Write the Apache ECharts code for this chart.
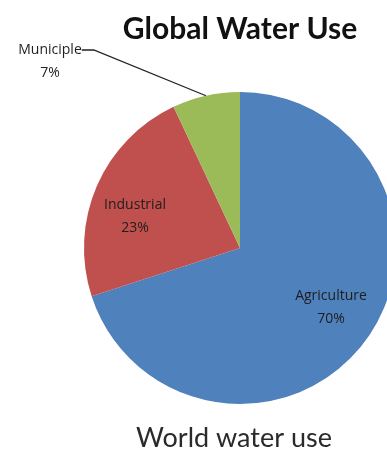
<!DOCTYPE html>
<html>
<head>
<meta charset="utf-8">
<script src="https://cdn.jsdelivr.net/npm/echarts@6/dist/echarts.min.js"></script>
<style>
  html, body { margin: 0; padding: 0; background: #fff; }
  #chart { width: 387px; height: 450px; }
</style>
</head>
<body>
<div id="chart"></div>
<script>
// Share of global freshwater withdrawals by sector
const categories = ['Agriculture', 'Industrial', 'Municiple'];
const shares = [70, 23, 7];
const sliceColors = ['#4F81BD', '#C0504D', '#9BBB59'];

// Where each sector's label sits (pixel anchor, centred)
const labelSpots = [
  { x: 331, y: 308 },
  { x: 135, y: 217 },
  { x: 50, y: 50 }
];

const chart = echarts.init(document.getElementById('chart'), null, { renderer: 'canvas' });

chart.setOption({
  animation: false,
  title: [
    {
      text: 'Global Water Use',
      left: 235,
      top: 9,
      textAlign: 'center',
      textStyle: { fontFamily: 'Lato', fontWeight: 'bold', fontSize: 30, color: '#111' }
    },
    {
      text: 'World water use',
      left: 229,
      top: 420,
      textAlign: 'center',
      textStyle: { fontFamily: 'Lato', fontWeight: 'normal', fontSize: 27, color: '#2a2a2a' }
    }
  ],
  series: [{
    type: 'pie',
    center: [240, 248],
    radius: 156,
    startAngle: 90,
    clockwise: true,
    silent: true,
    data: categories.map((name, i) => ({
      name: name,
      value: shares[i],
      itemStyle: { color: sliceColors[i] },
      label: { position: i === 2 ? 'outside' : 'inside' },
      labelLine: { show: i === 2 }
    })),
    label: {
      show: true,
      // the outside label gets a blank top line so its leader meets the name line
      formatter: function (p) {
        const text = p.name + '\n' + p.value + '%';
        return p.dataIndex === 2 ? '\n' + text : text;
      },
      fontFamily: 'Open Sans',
      fontSize: 14,
      lineHeight: 23,
      color: '#1e1e1e',
      align: 'center'
    },
    labelLine: {
      lineStyle: { color: '#222', width: 1.3 },
      length: 10,
      length2: 12,
      smooth: false
    },
    labelLayout: function (params) {
      const p = labelSpots[params.dataIndex];
      return { x: p.x, y: p.y, align: 'center', verticalAlign: 'middle' };
    }
  }]
});
</script>
</body>
</html>
